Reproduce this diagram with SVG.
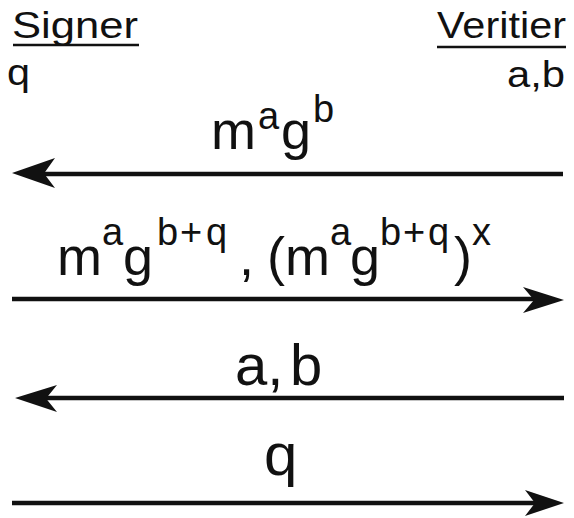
<svg xmlns="http://www.w3.org/2000/svg" width="574" height="518" viewBox="0 0 574 518">
<style>
text{font-family:"Liberation Sans",Arial,Helvetica,sans-serif;fill:#111}
.hd{font-size:37px}
.lb{font-size:54px}
.sp{font-size:38px}
.ln{stroke:#111;stroke-width:4.5;fill:none}
.ul{stroke:#111;stroke-width:2.5}
.ah{fill:#111}
</style>
<rect width="574" height="518" fill="#fff"/>
<g id="signer">
<text class="hd" x="12" y="38" textLength="126" lengthAdjust="spacingAndGlyphs">Signer</text>
<line class="ul" x1="13" y1="45" x2="139" y2="45"/>
<text class="hd" x="7" y="85" textLength="23" lengthAdjust="spacingAndGlyphs">q</text>
</g>
<g id="verifier">
<text class="hd" x="437" y="38" textLength="129" lengthAdjust="spacingAndGlyphs">Veritier</text>
<line class="ul" x1="437" y1="47" x2="566" y2="47"/>
<text class="hd" x="507" y="87" textLength="58" lengthAdjust="spacingAndGlyphs">a,b</text>
</g>
<g id="connectors">
<g id="msg1">
<line class="ln" x1="563" y1="174" x2="40" y2="174"/>
<path class="ah" d="M12,173 L55,158 L44,173.5 L55,188 Z"/>
<text><tspan class="lb" x="211" y="149">m</tspan><tspan class="sp" x="258" y="129">a</tspan><tspan class="lb" x="281" y="149">g</tspan><tspan class="sp" x="313" y="122">b</tspan></text>
</g>
<g id="msg2">
<line class="ln" x1="12" y1="299" x2="540" y2="299"/>
<path class="ah" d="M564,300 L523,287 L534,300 L523,313 Z"/>
<text><tspan class="lb" x="57" y="275">m</tspan><tspan class="sp" y="245">a</tspan><tspan class="lb" x="123" y="275">g</tspan><tspan class="sp" x="157" y="245">b</tspan><tspan class="sp" x="180" y="245">+</tspan><tspan class="sp" x="206" y="245">q</tspan><tspan class="lb" x="239" y="275">,</tspan><tspan class="lb" x="267" y="275">(m</tspan><tspan class="sp" y="245">a</tspan><tspan class="lb" x="350" y="275">g</tspan><tspan class="sp" x="380" y="245">b</tspan><tspan class="sp" x="403" y="245">+</tspan><tspan class="sp" x="428" y="245">q</tspan><tspan class="lb" x="454" y="275">)</tspan><tspan class="sp" x="472" y="245">x</tspan></text>
</g>
<g id="msg3">
<line class="ln" x1="564" y1="398" x2="42" y2="398"/>
<path class="ah" d="M15,398 L57,385 L46,398.5 L57,412 Z"/>
<text font-size="58"><tspan x="235" y="385">a,</tspan><tspan x="290" y="385">b</tspan></text>
</g>
<g id="msg4">
<line class="ln" x1="12" y1="503" x2="540" y2="503"/>
<path class="ah" d="M564,503 L525,490 L535,503 L525,516 Z"/>
<text font-size="60" x="264" y="475">q</text>
</g>
</g>
</svg>
